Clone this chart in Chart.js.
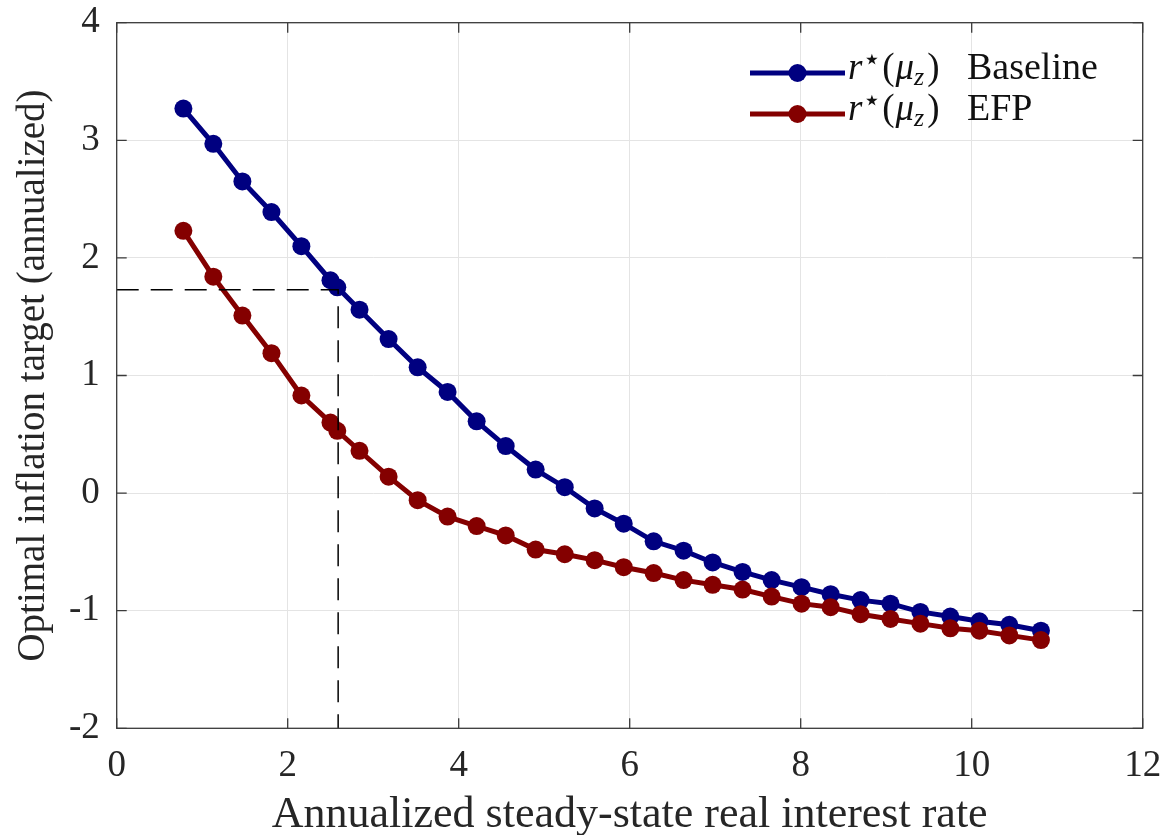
<!DOCTYPE html>
<html>
<head>
<meta charset="utf-8">
<script src="https://cdn.jsdelivr.net/npm/chart.js@4.4.1/dist/chart.umd.min.js"></script>
<style>
  html, body { margin: 0; padding: 0; background: #fff; }
  #wrap { width: 1167px; height: 835px; }
</style>
</head>
<body>
<div id="wrap"><canvas id="chart" width="1167" height="835"></canvas></div>
<script>
// steady-state real rate (x) shared by both curves
const rates = [0.78, 1.13, 1.47, 1.81, 2.16, 2.50, 2.58, 2.84, 3.18, 3.52, 3.87, 4.21, 4.55, 4.90, 5.24, 5.59,
               5.93, 6.28, 6.63, 6.97, 7.32, 7.66, 8.01, 8.35, 8.70, 9.05, 9.40, 9.75, 10.09, 10.44, 10.81];
const baseline = [3.27, 2.97, 2.65, 2.39, 2.10, 1.81, 1.75, 1.56, 1.31, 1.07, 0.86, 0.61, 0.40, 0.20, 0.05, -0.13,
                  -0.26, -0.41, -0.49, -0.59, -0.67, -0.74, -0.80, -0.86, -0.91, -0.94, -1.01, -1.05, -1.09, -1.12, -1.17];
const efp = [2.23, 1.84, 1.51, 1.19, 0.83, 0.60, 0.53, 0.36, 0.14, -0.06, -0.20, -0.28, -0.36, -0.48, -0.52, -0.57,
             -0.63, -0.68, -0.74, -0.78, -0.82, -0.88, -0.94, -0.97, -1.03, -1.07, -1.11, -1.15, -1.17, -1.21, -1.25];
// dashed guide
const guideX = [0, 2.59, 2.59];
const guideY = [1.73, 1.73, -2];

const xTicks = [0, 2, 4, 6, 8, 10, 12];
const yTicks = [-2, -1, 0, 1, 2, 3, 4];

const BLUE = '#000080';
const RED = '#840000';
const INK = '#262626';
const SERIF = "'Liberation Serif', 'Times New Roman', serif";

const toPts = (xs, ys) => xs.map((x, i) => ({ x: x, y: ys[i] }));

// box around the axes with inward tick marks on every side
const boxPlugin = {
    id: 'box',
    afterDatasetsDraw(chart) {
        const { ctx, chartArea: a, scales } = chart;
        ctx.save();
        ctx.strokeStyle = '#3a3a3a';
        ctx.lineWidth = 1.3;
        ctx.strokeRect(a.left, a.top, a.right - a.left, a.bottom - a.top);
        ctx.beginPath();
        xTicks.forEach(v => {
            const px = scales.x.getPixelForValue(v);
            ctx.moveTo(px, a.bottom); ctx.lineTo(px, a.bottom - 10);
            ctx.moveTo(px, a.top); ctx.lineTo(px, a.top + 10);
        });
        yTicks.forEach(v => {
            const py = scales.y.getPixelForValue(v);
            ctx.moveTo(a.left, py); ctx.lineTo(a.left + 10, py);
            ctx.moveTo(a.right, py); ctx.lineTo(a.right - 10, py);
        });
        ctx.stroke();
        ctx.restore();
    }
};

// legend with the math label r*(mu_z)
const legendPlugin = {
    id: 'mathLegend',
    afterDraw(chart) {
        const { ctx } = chart;
        const rows = [
            { color: BLUE, word: 'Baseline', y: 73 },
            { color: RED, word: 'EFP', y: 114 }
        ];
        ctx.save();
        rows.forEach(r => {
            ctx.strokeStyle = r.color;
            ctx.lineWidth = 5;
            ctx.beginPath();
            ctx.moveTo(750, r.y); ctx.lineTo(845, r.y);
            ctx.stroke();
            ctx.fillStyle = r.color;
            ctx.beginPath();
            ctx.arc(797.5, r.y, 9, 0, Math.PI * 2);
            ctx.fill();

            ctx.fillStyle = '#111';
            ctx.textBaseline = 'alphabetic';
            const base = r.y + 6;
            let x = 848;
            const put = (txt, font, dy) => {
                ctx.font = font;
                ctx.fillText(txt, x, base + dy);
                x += ctx.measureText(txt).width;
            };
            put('r', 'italic 37px ' + SERIF, 0);
            put('\u22C6', '30px DejaVu Sans', -10);
            x += 1;
            put('(', '37px ' + SERIF, 0);
            x += 1;
            put('\u03BC', 'italic 37px ' + SERIF, 0);
            put('z', 'italic 26px ' + SERIF, 6);
            x += 3;
            put(')', '37px ' + SERIF, 0);
            ctx.font = '38px ' + SERIF;
            ctx.fillText(r.word, 967, base);
        });
        ctx.restore();
    }
};

new Chart(document.getElementById('chart'), {
    type: 'line',
    data: {
        datasets: [
            {
                label: 'guide',
                data: toPts(guideX, guideY),
                borderColor: '#000',
                borderWidth: 1.5,
                borderDash: [22, 12],
                pointRadius: 0,
                tension: 0,
                order: 1
            },
            {
                label: 'r*(mu_z) EFP',
                data: toPts(rates, efp),
                borderColor: RED,
                backgroundColor: RED,
                borderWidth: 5,
                pointRadius: 9,
                pointBorderWidth: 0,
                pointBackgroundColor: RED,
                tension: 0,
                order: 2
            },
            {
                label: 'r*(mu_z) Baseline',
                data: toPts(rates, baseline),
                borderColor: BLUE,
                backgroundColor: BLUE,
                borderWidth: 5,
                pointRadius: 9,
                pointBorderWidth: 0,
                pointBackgroundColor: BLUE,
                tension: 0,
                order: 3
            }
        ]
    },
    options: {
        responsive: false,
        animation: false,
        layout: { padding: { top: 22.7, right: 24.3, left: 0, bottom: 0 } },
        plugins: {
            legend: { display: false },
            tooltip: { enabled: false }
        },
        scales: {
            x: {
                type: 'linear',
                min: 0,
                max: 12,
                afterBuildTicks: s => { s.ticks = xTicks.map(v => ({ value: v })); },
                afterFit: s => { s.height = 106.7; s.paddingLeft = 0; s.paddingRight = 0; },
                ticks: {
                    color: INK,
                    padding: 16,
                    font: { family: SERIF, size: 37 }
                },
                grid: { color: '#e4e4e4', lineWidth: 1, drawTicks: false },
                border: { display: false },
                title: {
                    display: true,
                    text: 'Annualized steady-state real interest rate',
                    color: INK,
                    font: { family: SERIF, size: 44, lineHeight: 1 },
                    padding: { top: 0, bottom: -2 }
                }
            },
            y: {
                min: -2,
                max: 4,
                afterBuildTicks: s => { s.ticks = yTicks.map(v => ({ value: v })); },
                afterFit: s => { s.width = 116.7; s.paddingTop = 0; s.paddingBottom = 0; },
                ticks: {
                    color: INK,
                    padding: 17,
                    font: { family: SERIF, size: 37 }
                },
                grid: { color: '#e4e4e4', lineWidth: 1, drawTicks: false },
                border: { display: false },
                title: {
                    display: true,
                    text: 'Optimal inflation target (annualized)',
                    color: INK,
                    font: { family: SERIF, size: 39, lineHeight: 1 },
                    padding: { top: 14, bottom: 0 }
                }
            }
        }
    },
    plugins: [boxPlugin, legendPlugin]
});
</script>
</body>
</html>
